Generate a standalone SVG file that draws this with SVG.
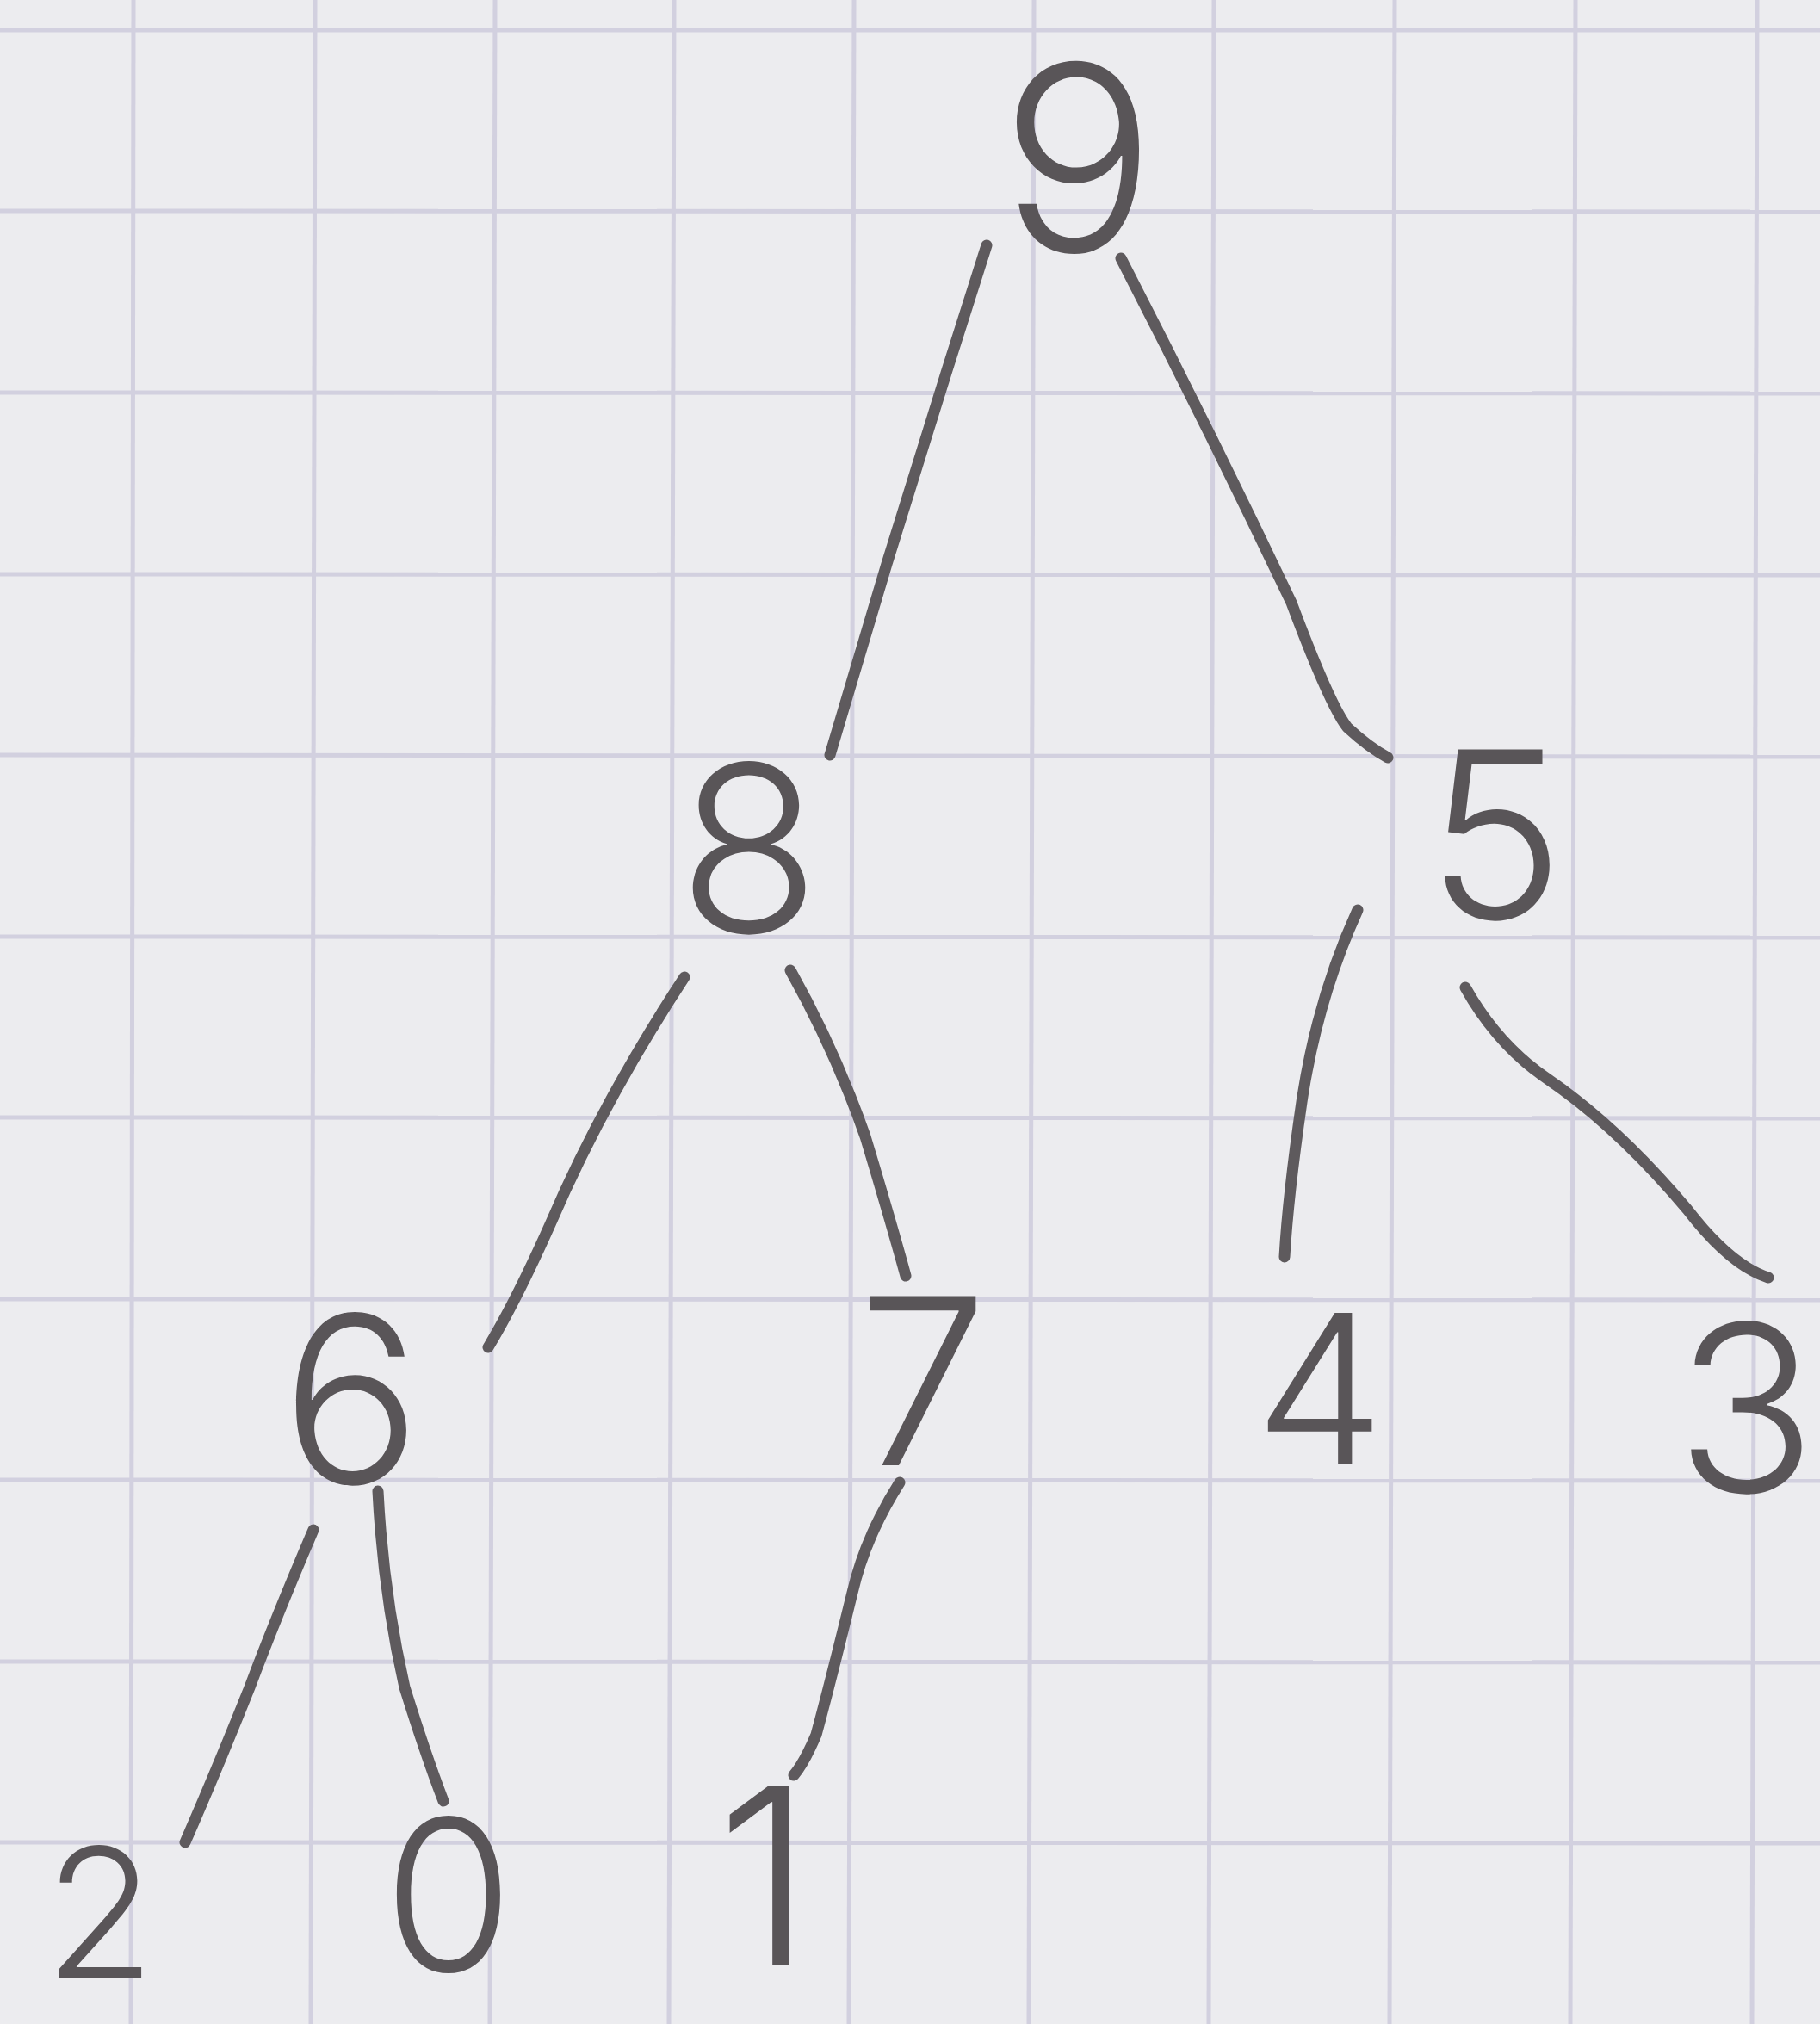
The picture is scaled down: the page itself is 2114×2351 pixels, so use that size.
<svg xmlns="http://www.w3.org/2000/svg" width="2114" height="2351" viewBox="0 0 2114 2351">
<style>
.paper{fill:#ececef}
.grid line{stroke:#d2d0df;stroke-width:5}
.edge{fill:none;stroke:#5e5a5d;stroke-width:13;stroke-linecap:round;stroke-linejoin:round}
.lbl{font-family:Inter,"DejaVu Sans",sans-serif;font-weight:300;fill:#595558;text-anchor:middle;font-size:270px}
</style>
<rect class="paper" x="0" y="0" width="2114" height="2351"/>
<g class="grid" id="grid">
<line x1="155" y1="0" x2="152" y2="2351"/>
<line x1="366" y1="0" x2="361" y2="2351"/>
<line x1="575" y1="0" x2="569" y2="2351"/>
<line x1="783" y1="0" x2="777" y2="2351"/>
<line x1="992" y1="0" x2="986" y2="2351"/>
<line x1="1201" y1="0" x2="1195" y2="2351"/>
<line x1="1410" y1="0" x2="1404" y2="2351"/>
<line x1="1620" y1="0" x2="1614" y2="2351"/>
<line x1="1830" y1="0" x2="1824" y2="2351"/>
<line x1="2041" y1="0" x2="2035" y2="2351"/>
<line x1="0" y1="35" x2="2114" y2="35"/>
<line x1="0" y1="245" x2="2114" y2="246"/>
<line x1="0" y1="456" x2="2114" y2="457"/>
<line x1="0" y1="667" x2="2114" y2="668"/>
<line x1="0" y1="877" x2="2114" y2="879"/>
<line x1="0" y1="1088" x2="2114" y2="1089"/>
<line x1="0" y1="1298" x2="2114" y2="1299"/>
<line x1="0" y1="1509" x2="2114" y2="1510"/>
<line x1="0" y1="1719" x2="2114" y2="1720"/>
<line x1="0" y1="1930" x2="2114" y2="1931"/>
<line x1="0" y1="2140" x2="2114" y2="2141"/>
</g>
<g id="connectors">
<path class="edge" d="M1146,285 L1100,430 L1030,655 L964,877"/>
<path class="edge" d="M1302,300 Q1405,500 1500,700 Q1545,820 1565,845 Q1590,868 1612,880"/>
<path class="edge" d="M795,1135 Q700,1280 640,1420 Q600,1510 567,1565"/>
<path class="edge" d="M918,1127 Q970,1220 1005,1320 Q1035,1420 1052,1482"/>
<path class="edge" d="M1577,1057 Q1530,1160 1512,1280 Q1496,1390 1492,1460"/>
<path class="edge" d="M1702,1147 Q1740,1215 1800,1255 Q1880,1310 1960,1405 Q2010,1470 2054,1484"/>
<path class="edge" d="M364,1777 Q320,1880 290,1960 Q250,2060 215,2140"/>
<path class="edge" d="M439,1732 Q445,1850 470,1960 Q495,2040 515,2092"/>
<path class="edge" d="M1045,1722 Q1005,1785 990,1850 Q963,1960 948,2015 Q934,2048 922,2062"/>
</g>
<g id="node-9"><text class="lbl" x="1252" y="292" style="font-size:300px">9</text></g>
<g id="node-8"><text class="lbl" x="870" y="1083">8</text></g>
<g id="node-5"><text class="lbl" x="1737" y="1067">5</text></g>
<g id="node-6"><text class="lbl" x="408" y="1723">6</text></g>
<g id="node-7"><text class="lbl" x="1072" y="1702" style="font-size:270px">7</text></g>
<g id="node-4"><text class="lbl" x="1533" y="1700" style="font-size:240px">4</text></g>
<g id="node-3"><text class="lbl" x="2028" y="1733">3</text></g>
<g id="node-2"><text class="lbl" x="116" y="2298" style="font-size:210px">2</text></g>
<g id="node-0"><text class="lbl" x="521" y="2290" style="font-size:245px">0</text></g>
<g id="node-1"><text class="lbl" x="888" y="2282" style="font-size:285px">1</text></g>
</svg>
